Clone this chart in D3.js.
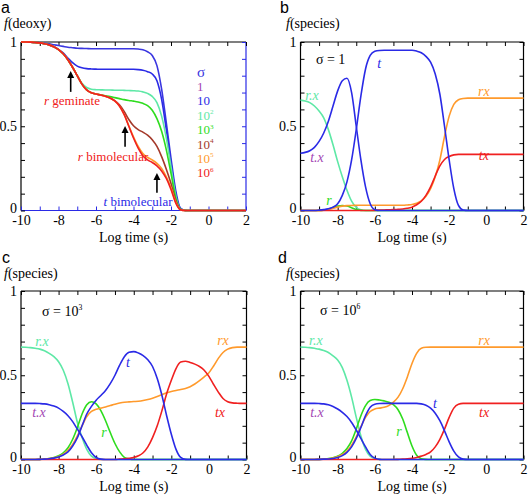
<!DOCTYPE html>
<html><head><meta charset="utf-8">
<script src="https://cdn.jsdelivr.net/npm/d3@7"></script>
<style>
body{margin:0;background:#fff}
svg{display:block}
</style>
</head><body>
<svg id="chart" width="529" height="496"></svg>
<script>
// ---------- DATA ----------
const logT = [-10,-9.75,-9.5,-9.25,-9,-8.75,-8.5,-8.25,-8,-7.75,-7.5,-7.25,-7,-6.75,-6.5,-6.25,
  -6,-5.75,-5.5,-5.25,-5,-4.75,-4.5,-4.25,-4,-3.75,-3.5,-3.25,-3,-2.75,-2.5,-2.25,
  -2,-1.75,-1.5,-1.25,-1,-0.75,-0.5,-0.25,0,0.25,0.5,0.75,1,1.25,1.5,1.75,2];
const xTicks = [-10,-9,-8,-7,-6,-5,-4,-3,-2,-1,0,1,2];
const xTickLabels = ["-10","","-8","","-6","","-4","","-2","","0","","2"];
const yTicks = [0,0.1,0.2,0.3,0.4,0.5,0.6,0.7,0.8,0.9,1];
const yTickLabels = ["0","","","","","0.5","","","","","1"];
const sigmaLabels = ["1","10","10^2","10^3","10^4","10^5","10^6"];

// panel a : f(deoxy) for each sigma
const deoxy_s1 = [1,1,0.999,0.998,0.996,0.993,0.989,0.984, 0.979,0.974,0.969,0.966,0.963,0.962,0.961,0.96,
  0.96,0.96,0.96,0.96,0.96,0.96,0.96,0.96, 0.96,0.958,0.954,0.942,0.92,0.86,0.72,0.52,
  0.31,0.12,0.015,0.001,0,0,0,0, 0,0,0,0,0,0,0,0, 0];
const deoxy_s10 = [1,1,0.999,0.997,0.995,0.99,0.983,0.972, 0.956,0.935,0.905,0.877,0.857,0.847,0.842,0.84,
  0.839,0.838,0.838,0.838,0.838,0.838,0.838,0.838, 0.838,0.836,0.832,0.824,0.81,0.77,0.66,0.48,
  0.28,0.1,0.012,0.001,0,0,0,0, 0,0,0,0,0,0,0,0, 0];
const deoxy_s1e2 = [1,1,0.999,0.997,0.995,0.99,0.983,0.972, 0.955,0.93,0.895,0.85,0.8,0.755,0.73,0.72,
  0.717,0.716,0.715,0.715,0.714,0.714,0.713,0.712, 0.711,0.709,0.704,0.695,0.677,0.64,0.56,0.43,
  0.26,0.09,0.01,0.001,0,0,0,0, 0,0,0,0,0,0,0,0, 0];
const deoxy_s1e3 = [1,1,0.999,0.997,0.995,0.99,0.983,0.972, 0.955,0.93,0.895,0.85,0.8,0.75,0.716,0.699,
  0.691,0.686,0.681,0.676,0.67,0.664,0.658,0.653, 0.649,0.644,0.636,0.622,0.595,0.545,0.47,0.36,
  0.22,0.075,0.008,0,0,0,0,0, 0,0,0,0,0,0,0,0, 0];
const deoxy_s1e4 = [1,1,0.999,0.997,0.995,0.99,0.983,0.972, 0.955,0.93,0.895,0.85,0.8,0.75,0.716,0.699,
  0.691,0.685,0.678,0.668,0.652,0.627,0.588,0.54, 0.503,0.48,0.465,0.447,0.42,0.38,0.32,0.245,
  0.16,0.06,0.006,0,0,0,0,0, 0,0,0,0,0,0,0,0, 0];
const deoxy_s1e5 = [1,1,0.999,0.997,0.995,0.99,0.983,0.972, 0.955,0.93,0.895,0.85,0.8,0.75,0.716,0.699,
  0.691,0.685,0.678,0.668,0.65,0.62,0.57,0.503, 0.437,0.38,0.338,0.315,0.3,0.28,0.25,0.2,
  0.135,0.05,0.005,0,0,0,0,0, 0,0,0,0,0,0,0,0, 0];
const deoxy_s1e6 = [1,1,0.999,0.997,0.995,0.99,0.983,0.972, 0.955,0.93,0.895,0.85,0.8,0.75,0.716,0.699,
  0.691,0.685,0.678,0.668,0.65,0.62,0.57,0.5, 0.43,0.37,0.325,0.3,0.285,0.265,0.235,0.19,
  0.125,0.045,0.005,0,0,0,0,0, 0,0,0,0,0,0,0,0, 0];

// panel b : sigma = 1
const b_rdotx = [0.655,0.65,0.64,0.62,0.59,0.55,0.48,0.39, 0.29,0.2,0.12,0.055,0.018,0.004,0,0,
  0,0,0,0,0,0,0,0, 0,0,0,0,0,0,0,0, 0,0,0,0,0,0,0,0, 0,0,0,0,0,0,0,0, 0];
const b_tdotx = [0.34,0.345,0.355,0.375,0.41,0.46,0.53,0.62, 0.71,0.77,0.785,0.7,0.5,0.3,0.14,0.04,
  0.005,0,0,0,0,0,0,0, 0,0,0,0,0,0,0,0, 0,0,0,0,0,0,0,0, 0,0,0,0,0,0,0,0, 0];
const b_t = [0,0,0,0,0.002,0.005,0.01,0.02, 0.04,0.09,0.17,0.3,0.48,0.68,0.84,0.92,
  0.945,0.95,0.951,0.951,0.951,0.951,0.951,0.951, 0.951,0.946,0.936,0.915,0.88,0.81,0.69,0.5,
  0.3,0.13,0.03,0.003,0,0,0,0, 0,0,0,0,0,0,0,0, 0];
const b_r = [0,0,0,0,0,0.002,0.008,0.018, 0.026,0.03,0.027,0.016,0.006,0.001,0,0,
  0,0,0,0,0,0,0,0, 0,0,0,0,0,0,0,0, 0,0,0,0,0,0,0,0, 0,0,0,0,0,0,0,0, 0];
const b_rx = [0,0,0,0,0,0.002,0.006,0.013, 0.02,0.026,0.029,0.03,0.031,0.031,0.031,0.031,
  0.031,0.031,0.031,0.031,0.031,0.031,0.031,0.033, 0.036,0.043,0.057,0.085,0.13,0.2,0.3,0.44,
  0.56,0.63,0.657,0.665,0.667,0.667,0.667,0.667, 0.667,0.667,0.667,0.667,0.667,0.667,0.667,0.667, 0.667];
const b_tx = [0,0,0,0,0,0,0,0, 0,0,0,0,0,0,0,0,
  0.001,0.002,0.003,0.004,0.005,0.007,0.009,0.013, 0.02,0.034,0.055,0.09,0.14,0.205,0.265,0.303,
  0.321,0.33,0.333,0.333,0.333,0.333,0.333,0.333, 0.333,0.333,0.333,0.333,0.333,0.333,0.333,0.333, 0.333];

// panel c : sigma = 10^3
const c_rdotx = [0.667,0.666,0.664,0.66,0.655,0.645,0.63,0.61, 0.58,0.53,0.45,0.34,0.22,0.13,0.06,0.02,
  0.005,0.001,0,0,0,0,0,0, 0,0,0,0,0,0,0,0, 0,0,0,0,0,0,0,0, 0,0,0,0,0,0,0,0, 0];
const c_tdotx = [0.333,0.333,0.333,0.333,0.332,0.33,0.325,0.317, 0.305,0.285,0.26,0.225,0.18,0.135,0.085,0.04,
  0.012,0.002,0,0,0,0,0,0, 0,0,0,0,0,0,0,0, 0,0,0,0,0,0,0,0, 0,0,0,0,0,0,0,0, 0];
const c_r = [0,0,0,0,0.001,0.003,0.006,0.012, 0.022,0.04,0.07,0.12,0.19,0.27,0.325,0.343,
  0.33,0.29,0.23,0.16,0.095,0.045,0.013,0.003, 0,0,0,0,0,0,0,0, 0,0,0,0,0,0,0,0, 0,0,0,0,0,0,0,0, 0];
const c_rx = [0,0,0,0,0.001,0.002,0.005,0.01, 0.018,0.032,0.055,0.09,0.14,0.2,0.255,0.285,
  0.298,0.305,0.312,0.32,0.328,0.335,0.34,0.342, 0.344,0.346,0.35,0.356,0.364,0.374,0.385,0.396,
  0.404,0.41,0.415,0.422,0.432,0.448,0.468,0.49, 0.515,0.555,0.6,0.635,0.655,0.664,0.667,0.667, 0.667];
const c_t = [0,0,0,0,0.001,0.002,0.004,0.008, 0.015,0.027,0.045,0.08,0.13,0.2,0.27,0.315,
  0.352,0.38,0.41,0.45,0.5,0.56,0.61,0.636, 0.64,0.632,0.617,0.592,0.552,0.48,0.38,0.26,
  0.15,0.06,0.012,0.001,0,0,0,0, 0,0,0,0,0,0,0,0, 0];
const c_tx = [0,0,0,0,0,0,0,0, 0,0,0,0,0,0,0,0,
  0,0,0,0,0,0.002,0.004,0.007, 0.012,0.022,0.04,0.075,0.13,0.2,0.29,0.39,
  0.47,0.54,0.578,0.583,0.576,0.566,0.552,0.53, 0.493,0.445,0.4,0.362,0.343,0.336,0.334,0.333, 0.333];

// panel d : sigma = 10^6
const d_rdotx = [0.667,0.666,0.664,0.66,0.655,0.647,0.635,0.615, 0.59,0.545,0.47,0.37,0.25,0.14,0.06,0.02,
  0.005,0.001,0,0,0,0,0,0, 0,0,0,0,0,0,0,0, 0,0,0,0,0,0,0,0, 0,0,0,0,0,0,0,0, 0];
const d_tdotx = [0.333,0.333,0.333,0.333,0.332,0.33,0.325,0.315, 0.3,0.28,0.255,0.22,0.175,0.125,0.075,0.03,
  0.008,0.001,0,0,0,0,0,0, 0,0,0,0,0,0,0,0, 0,0,0,0,0,0,0,0, 0,0,0,0,0,0,0,0, 0];
const d_r = [0,0,0,0,0.001,0.003,0.005,0.011, 0.02,0.037,0.065,0.11,0.18,0.26,0.32,0.35,
  0.356,0.353,0.348,0.34,0.325,0.295,0.24,0.16, 0.08,0.025,0.005,0.001,0,0,0,0,
  0,0,0,0,0,0,0,0, 0,0,0,0,0,0,0,0, 0];
const d_rx = [0,0,0,0,0.001,0.002,0.004,0.009, 0.016,0.03,0.05,0.085,0.135,0.195,0.25,0.285,
  0.3,0.305,0.31,0.32,0.34,0.37,0.42,0.49, 0.57,0.63,0.66,0.666,0.667,0.667,0.667,0.667,
  0.667,0.667,0.667,0.667,0.667,0.667,0.667,0.667, 0.667,0.667,0.667,0.667,0.667,0.667,0.667,0.667, 0.667];
const d_t = [0,0,0,0,0.001,0.002,0.003,0.006, 0.012,0.023,0.042,0.075,0.125,0.19,0.26,0.31,
  0.328,0.332,0.333,0.333,0.333,0.333,0.333,0.333, 0.333,0.333,0.33,0.322,0.305,0.275,0.23,0.17,
  0.105,0.05,0.015,0.002,0,0,0,0, 0,0,0,0,0,0,0,0, 0];
const d_tx = [0,0,0,0,0,0,0,0, 0,0,0,0,0,0,0,0,
  0,0,0,0,0,0.001,0.002,0.004, 0.007,0.012,0.02,0.03,0.045,0.075,0.12,0.18,
  0.25,0.305,0.328,0.333,0.333,0.333,0.333,0.333, 0.333,0.333,0.333,0.333,0.333,0.333,0.333,0.333, 0.333];

// ---------- STYLE / LAYOUT ----------
const SERIF = "Liberation Serif, Times New Roman, Tinos, DejaVu Serif, serif";
const SANS = "Liberation Sans, Arial, DejaVu Sans, sans-serif";
const BLUE="#2a2ae6", AQUA="#5ee8a6", GREEN="#2edc1e", ORANGE="#ff9a2c", RED="#f02020",
      BROWN="#a4392a", PURPLE="#a446b4", SIGBLUE="#3a36e0";
const sigmaColors = [PURPLE, BLUE, AQUA, GREEN, BROWN, ORANGE, RED];
const sigmaSeries = [deoxy_s1, deoxy_s10, deoxy_s1e2, deoxy_s1e3, deoxy_s1e4, deoxy_s1e5, deoxy_s1e6];
const sigmaLineColors = [SIGBLUE, BLUE, AQUA, GREEN, BROWN, ORANGE, RED];

const svg = d3.select("#chart");

function addRich(g, parts, x, y, opts) {
  const size = opts.size || 13;
  const t = g.append("text").attr("x", x).attr("y", y)
    .style("font-family", opts.family || SERIF)
    .style("font-size", size + "px")
    .attr("fill", opts.color || "#000")
    .attr("text-anchor", opts.anchor || "start");
  if (opts.dy) t.attr("dy", opts.dy);
  parts.forEach(p => {
    if (typeof p === "string") p = {t: p};
    if (p.t.includes("^")) {
      const [base, sup] = p.t.split("^");
      const s1 = t.append("tspan").text(base);
      if (p.i) s1.style("font-style", "italic");
      t.append("tspan").text(sup).style("font-size", (size * 0.55) + "px")
        .attr("dy", -size * 0.42);
    } else {
      const s = t.append("tspan").text(p.t);
      if (p.i) s.style("font-style", "italic");
    }
  });
  return t;
}

function makePanel(cfg) {
  const {x0, x1, y0, y1} = cfg.box;
  const x = d3.scaleLinear().domain([-10, 2]).range([x0, x1]);
  const y = d3.scaleLinear().domain([0, 1]).range([y1, y0]);
  const g = svg.append("g");

  const sides = cfg.sideColors || {};
  const fw = 1.2;
  g.append("line").attr("x1", x0).attr("x2", x1).attr("y1", y0).attr("y2", y0).attr("stroke", sides.top || "#000").attr("stroke-width", fw);
  g.append("line").attr("x1", x0).attr("x2", x0).attr("y1", y0).attr("y2", y1).attr("stroke", sides.left || "#000").attr("stroke-width", fw);
  g.append("line").attr("x1", x1).attr("x2", x1).attr("y1", y0).attr("y2", y1).attr("stroke", sides.right || "#000").attr("stroke-width", fw);
  g.append("line").attr("x1", x0).attr("x2", x1).attr("y1", y1).attr("y2", y1).attr("stroke", sides.bottom || "#000").attr("stroke-width", fw);

  const fmtX = d => xTickLabels[xTicks.indexOf(d)];
  const fmtY = d => yTickLabels[yTicks.indexOf(d)];
  const styleAxis = (sel, color) => {
    sel.select(".domain").remove();
    sel.attr("font-family", null).attr("font-size", null);
    sel.selectAll(".tick line").attr("stroke", color).attr("stroke-width", 1);
    sel.selectAll(".tick text").attr("fill", "#000")
      .style("font-family", SERIF).style("font-size", "14px");
  };
  g.append("g").attr("transform", `translate(0,${y1})`)
    .call(d3.axisBottom(x).tickValues(xTicks).tickFormat(fmtX).tickSize(-4).tickPadding(5))
    .call(s => styleAxis(s, sides.bottom || "#000"));
  g.append("g").attr("transform", `translate(0,${y0})`)
    .call(d3.axisTop(x).tickValues(xTicks).tickFormat("").tickSize(-4))
    .call(s => styleAxis(s, sides.top || "#000"));
  g.append("g").attr("transform", `translate(${x0},0)`)
    .call(d3.axisLeft(y).tickValues(yTicks).tickFormat(fmtY).tickSize(-4).tickPadding(4))
    .call(s => styleAxis(s, sides.left || "#000"))
    .call(s => s.selectAll(".tick text").filter(d => d === 0).attr("dy", "0.15em"));
  g.append("g").attr("transform", `translate(${x1},0)`)
    .call(d3.axisRight(y).tickValues(yTicks).tickFormat("").tickSize(-4))
    .call(s => styleAxis(s, sides.right || "#000"));

  const line = d3.line().x((d, i) => x(logT[i])).y(d => y(d)).curve(d3.curveMonotoneX);
  cfg.series.forEach(s => {
    g.append("path").datum(s.values).attr("d", line)
      .attr("fill", "none").attr("stroke", s.color).attr("stroke-width", 1.6)
      .attr("stroke-linejoin", "round");
  });

  addRich(svg, [cfg.letter], cfg.letterX, cfg.letterY, {size: 16, family: SANS});
  addRich(svg, cfg.ylab, cfg.ylabX, cfg.ylabY, {size: 14});
  addRich(svg, ["Log time (s)"], (x0 + x1) / 2, y1 + 31, {size: 14, anchor: "middle"});

  (cfg.labels || []).forEach(l => {
    addRich(g, l.parts, x(l.x), y(l.y), {size: l.size || 14, color: l.color, anchor: l.anchor || "middle", dy: "0.35em"});
  });
  return {g, x, y};
}

// ---------- PANEL A ----------
const pa = makePanel({
  box: {x0: 21, x1: 246, y0: 42, y1: 210.5},
  sideColors: {bottom: BLUE, right: BLUE},
  series: sigmaSeries.map((v, i) => ({values: v, color: sigmaLineColors[i]})),
  letter: "a", letterX: 1, letterY: 12.5,
  ylab: [{t: "f", i: true}, "(deoxy)"], ylabX: 4, ylabY: 27.5,
  labels: [
    {parts: [{t: "r", i: true}, " geminate"], x: -7.28, y: 0.656, color: RED, size: 13},
    {parts: [{t: "r", i: true}, " bimolecular"], x: -5.09, y: 0.323, color: RED, size: 13},
    {parts: [{t: "t", i: true}, " bimolecular"], x: -3.76, y: 0.056, color: BLUE, size: 13}
  ]
});
const arrows = [[-7.35, 0.704, 0.828], [-4.45, 0.378, 0.502], [-2.75, 0.105, 0.223]];
arrows.forEach(([ax, yb, yt]) => {
  const X = pa.x(ax), Yb = pa.y(yb), Yt = pa.y(yt);
  pa.g.append("line").attr("x1", X).attr("x2", X).attr("y1", Yb).attr("y2", Yt + 5)
    .attr("stroke", "#000").attr("stroke-width", 1.6);
  pa.g.append("path").attr("d", `M${X},${Yt} L${X - 3.5},${Yt + 7} L${X + 3.5},${Yt + 7} Z`).attr("fill", "#000");
});
const legX = pa.x(-0.62), legY0 = pa.y(0.822), legStep = 14.4;
addRich(pa.g, ["σ"], legX, legY0, {size: 15, color: SIGBLUE, dy: "0.35em"});
sigmaLabels.forEach((s, i) => {
  addRich(pa.g, [s], legX, legY0 + (i + 1) * legStep, {size: 13, color: sigmaColors[i], dy: "0.35em"});
});

// ---------- PANELS B, C, D ----------
function speciesSeries(rdotx, r, rx, tx, tdotx, t) {
  return [
    {values: rdotx, color: AQUA}, {values: r, color: GREEN}, {values: rx, color: ORANGE},
    {values: tx, color: RED}, {values: tdotx, color: BLUE}, {values: t, color: BLUE}
  ];
}
const ySpecies = [{t: "f", i: true}, "(species)"];

makePanel({
  box: {x0: 300.5, x1: 523.5, y0: 42, y1: 210.5},
  series: speciesSeries(b_rdotx, b_r, b_rx, b_tx, b_tdotx, b_t),
  letter: "b", letterX: 280, letterY: 12.5,
  ylab: ySpecies, ylabX: 286, ylabY: 27.5,
  labels: [
    {parts: ["σ = 1"], x: -9.17, y: 0.899, color: "#000", anchor: "start"},
    {parts: [{t: "t", i: true}], x: -5.77, y: 0.875, color: BLUE},
    {parts: [{t: "rx", i: true}], x: -0.13, y: 0.708, color: ORANGE},
    {parts: [{t: "tx", i: true}], x: -0.13, y: 0.327, color: RED},
    {parts: [{t: "r.x", i: true}], x: -9.38, y: 0.685, color: AQUA},
    {parts: [{t: "t.x", i: true}], x: -9.11, y: 0.315, color: PURPLE},
    {parts: [{t: "r", i: true}], x: -8.47, y: 0.06, color: GREEN}
  ]
});

makePanel({
  box: {x0: 21, x1: 246.5, y0: 291, y1: 459.5},
  series: speciesSeries(c_rdotx, c_r, c_rx, c_tx, c_tdotx, c_t),
  letter: "c", letterX: 2, letterY: 262.5,
  ylab: ySpecies, ylabX: 4, ylabY: 277.5,
  labels: [
    {parts: ["σ = 10^3"], x: -8.88, y: 0.881, color: "#000", anchor: "start"},
    {parts: [{t: "r.x", i: true}], x: -8.88, y: 0.703, color: AQUA},
    {parts: [{t: "t.x", i: true}], x: -9.04, y: 0.282, color: PURPLE},
    {parts: [{t: "r", i: true}], x: -5.58, y: 0.163, color: GREEN},
    {parts: [{t: "t", i: true}], x: -4.31, y: 0.579, color: BLUE},
    {parts: [{t: "rx", i: true}], x: 0.75, y: 0.709, color: ORANGE},
    {parts: [{t: "tx", i: true}], x: 0.59, y: 0.282, color: RED}
  ]
});

makePanel({
  box: {x0: 300.5, x1: 523.5, y0: 291, y1: 459.5},
  series: speciesSeries(d_rdotx, d_r, d_rx, d_tx, d_tdotx, d_t),
  letter: "d", letterX: 278, letterY: 262.5,
  ylab: ySpecies, ylabX: 286, ylabY: 277.5,
  labels: [
    {parts: ["σ = 10^6"], x: -8.95, y: 0.887, color: "#000", anchor: "start"},
    {parts: [{t: "r.x", i: true}], x: -9.17, y: 0.709, color: AQUA},
    {parts: [{t: "t.x", i: true}], x: -9.11, y: 0.282, color: PURPLE},
    {parts: [{t: "r", i: true}], x: -4.7, y: 0.169, color: GREEN},
    {parts: [{t: "t", i: true}], x: -2.76, y: 0.335, color: BLUE},
    {parts: [{t: "rx", i: true}], x: -0.12, y: 0.709, color: ORANGE},
    {parts: [{t: "tx", i: true}], x: -0.12, y: 0.282, color: RED}
  ]
});
</script>
</body></html>
